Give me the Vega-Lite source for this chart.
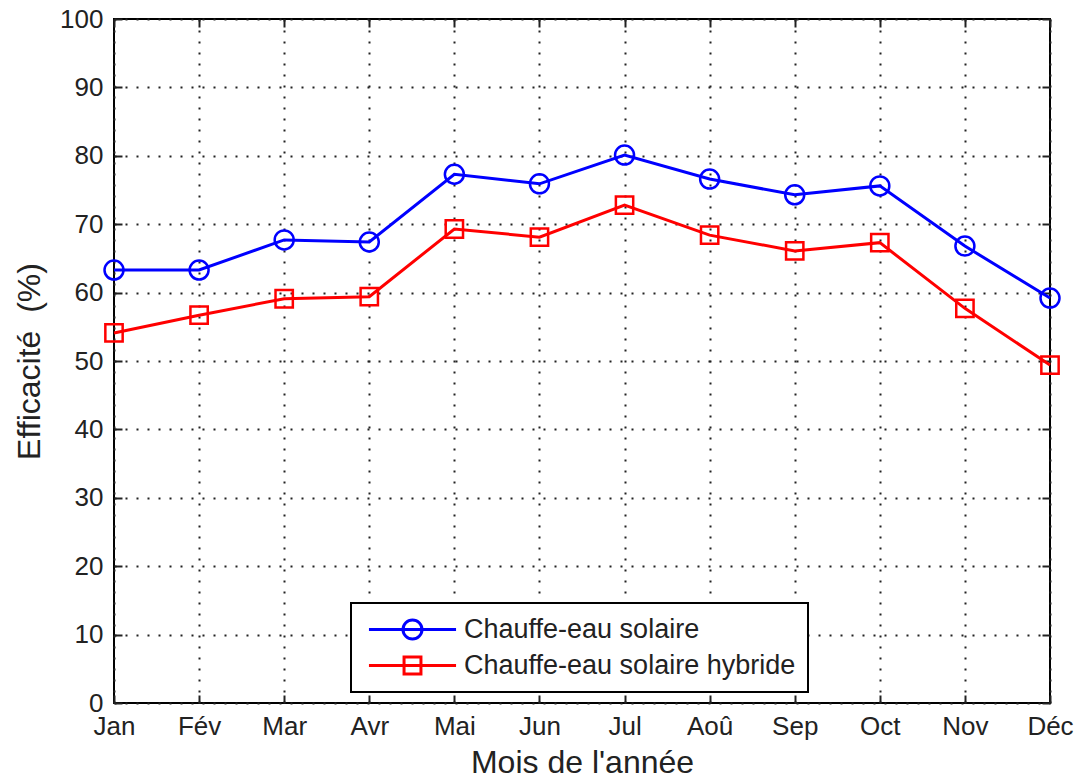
{
  "$schema": "https://vega.github.io/schema/vega-lite/v6.json",
  "width": 936,
  "height": 684,
  "autosize": {"type": "none"},
  "padding": {"left": 114, "top": 19, "right": 31, "bottom": 77},
  "background": "white",
  "config": {
    "view": {"stroke": "black", "strokeWidth": 2},
    "font": "Liberation Sans",
    "axis": {
      "labelFont": "Liberation Sans",
      "titleFont": "Liberation Sans",
      "labelFontSize": 26,
      "labelColor": "#222",
      "titleFontSize": 32,
      "titleFontWeight": "normal",
      "titleColor": "#222",
      "domain": false,
      "tickColor": "#222",
      "tickWidth": 2,
      "tickSize": -8,
      "gridColor": "#222",
      "gridWidth": 2,
      "gridDash": [2, 9],
      "gridOpacity": 1
    }
  },
  "data": {
    "values": [
      {"mois": "Jan", "serie": "Chauffe-eau solaire", "eff": 63.3},
      {"mois": "Fév", "serie": "Chauffe-eau solaire", "eff": 63.3},
      {"mois": "Mar", "serie": "Chauffe-eau solaire", "eff": 67.7},
      {"mois": "Avr", "serie": "Chauffe-eau solaire", "eff": 67.4},
      {"mois": "Mai", "serie": "Chauffe-eau solaire", "eff": 77.3},
      {"mois": "Jun", "serie": "Chauffe-eau solaire", "eff": 75.9},
      {"mois": "Jul", "serie": "Chauffe-eau solaire", "eff": 80.1},
      {"mois": "Aoû", "serie": "Chauffe-eau solaire", "eff": 76.6},
      {"mois": "Sep", "serie": "Chauffe-eau solaire", "eff": 74.3},
      {"mois": "Oct", "serie": "Chauffe-eau solaire", "eff": 75.6},
      {"mois": "Nov", "serie": "Chauffe-eau solaire", "eff": 66.8},
      {"mois": "Déc", "serie": "Chauffe-eau solaire", "eff": 59.2},
      {"mois": "Jan", "serie": "Chauffe-eau solaire hybride", "eff": 54.1},
      {"mois": "Fév", "serie": "Chauffe-eau solaire hybride", "eff": 56.7},
      {"mois": "Mar", "serie": "Chauffe-eau solaire hybride", "eff": 59.1},
      {"mois": "Avr", "serie": "Chauffe-eau solaire hybride", "eff": 59.4},
      {"mois": "Mai", "serie": "Chauffe-eau solaire hybride", "eff": 69.3},
      {"mois": "Jun", "serie": "Chauffe-eau solaire hybride", "eff": 68.1},
      {"mois": "Jul", "serie": "Chauffe-eau solaire hybride", "eff": 72.8},
      {"mois": "Aoû", "serie": "Chauffe-eau solaire hybride", "eff": 68.4},
      {"mois": "Sep", "serie": "Chauffe-eau solaire hybride", "eff": 66.1},
      {"mois": "Oct", "serie": "Chauffe-eau solaire hybride", "eff": 67.3},
      {"mois": "Nov", "serie": "Chauffe-eau solaire hybride", "eff": 57.7},
      {"mois": "Déc", "serie": "Chauffe-eau solaire hybride", "eff": 49.4}
    ]
  },
  "layer": [
    {
      "mark": {"type": "line", "strokeWidth": 3},
      "encoding": {
        "x": {
          "field": "mois", "type": "ordinal",
          "sort": ["Jan", "Fév", "Mar", "Avr", "Mai", "Jun", "Jul", "Aoû", "Sep", "Oct", "Nov", "Déc"],
          "scale": {"type": "point", "padding": 0},
          "axis": {"orient": "bottom", "labelAngle": 0, "grid": true, "labelPadding": 18, "title": "Mois de l'année", "titlePadding": 8}
        },
        "y": {
          "field": "eff", "type": "quantitative",
          "scale": {"domain": [0, 100], "nice": false},
          "axis": {"orient": "left", "values": [0, 10, 20, 30, 40, 50, 60, 70, 80, 90, 100], "grid": true, "labelPadding": 19, "title": "Efficacité \u00a0(%)", "titlePadding": 13}
        },
        "color": {
          "field": "serie", "type": "nominal",
          "scale": {"domain": ["Chauffe-eau solaire", "Chauffe-eau solaire hybride"], "range": ["#0000FF", "#FF0000"]},
          "legend": {
            "title": null,
            "orient": "none",
            "legendX": 237,
            "legendY": 584,
            "direction": "vertical",
            "padding": 12,
            "strokeColor": "black",
            "fillColor": "white",
            "labelFont": "Liberation Sans",
            "labelFontSize": 27,
            "labelColor": "#222",
            "labelLimit": 600,
            "symbolType": "M-3.35,0H3.35",
            "symbolSize": 676,
            "symbolStrokeWidth": 3,
            "symbolOffset": 35,
            "labelOffset": 37,
            "rowPadding": 6,
            "encode": {
              "legend": {"update": {"strokeWidth": {"value": 2}}},
              "symbols": {
                "update": {
                  "shape": {"signal": "datum.value === 'Chauffe-eau solaire' ? 'M-3.35,0H3.35M0.73,0A0.73,0.73,0,1,1,-0.73,0A0.73,0.73,0,1,1,0.73,0Z' : 'M-3.35,0H3.35M-0.65,-0.65H0.65V0.65H-0.65Z'"},
                  "fill": {"value": "transparent"}
                }
              }
            }
          }
        }
      }
    },
    {
      "transform": [{"filter": "datum.serie === 'Chauffe-eau solaire'"}],
      "mark": {"type": "point", "shape": "circle", "filled": false, "strokeWidth": 2.5, "size": 361, "opacity": 1, "color": "#0000FF"},
      "encoding": {
        "x": {
          "field": "mois", "type": "ordinal",
          "sort": ["Jan", "Fév", "Mar", "Avr", "Mai", "Jun", "Jul", "Aoû", "Sep", "Oct", "Nov", "Déc"],
          "scale": {"type": "point", "padding": 0},
          "axis": {"orient": "top", "labels": false, "grid": false, "title": null}
        },
        "y": {
          "field": "eff", "type": "quantitative",
          "scale": {"domain": [0, 100], "nice": false},
          "axis": {"orient": "right", "values": [0, 10, 20, 30, 40, 50, 60, 70, 80, 90, 100], "labels": false, "grid": false, "title": null}
        }
      }
    },
    {
      "transform": [{"filter": "datum.serie === 'Chauffe-eau solaire hybride'"}],
      "mark": {"type": "point", "shape": "square", "filled": false, "strokeWidth": 2.5, "size": 300, "opacity": 1, "color": "#FF0000"},
      "encoding": {
        "x": {
          "field": "mois", "type": "ordinal",
          "sort": ["Jan", "Fév", "Mar", "Avr", "Mai", "Jun", "Jul", "Aoû", "Sep", "Oct", "Nov", "Déc"],
          "scale": {"type": "point", "padding": 0},
          "axis": null
        },
        "y": {
          "field": "eff", "type": "quantitative",
          "scale": {"domain": [0, 100], "nice": false},
          "axis": null
        }
      }
    }
  ],
  "resolve": {"scale": {"x": "independent", "y": "independent"}}
}
